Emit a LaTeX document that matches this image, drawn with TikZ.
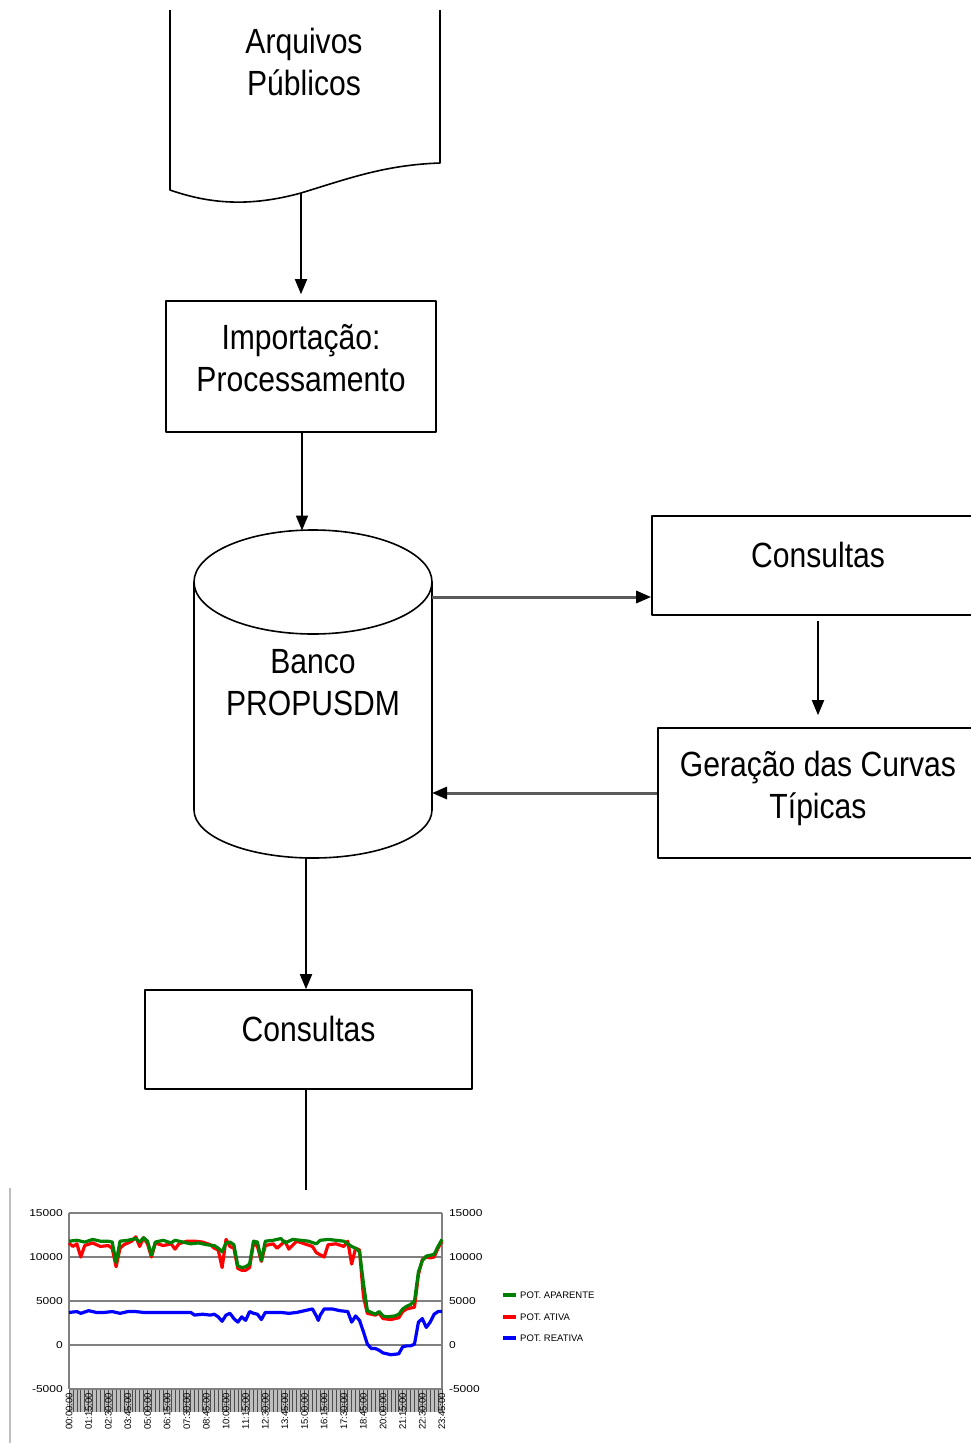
\documentclass[tikz,border=0pt]{standalone}
\usepackage{fontspec}
\setmainfont{Liberation Sans}[FakeStretch=0.86]
\newfontfamily\chartfont{Liberation Sans}
\newfontfamily\chartfontw{Liberation Sans}[FakeStretch=1.2]
\usetikzlibrary{arrows.meta,positioning}
\definecolor{aparente}{HTML}{008000}
\definecolor{ativa}{HTML}{FF0000}
\definecolor{reativa}{HTML}{0000FF}
\definecolor{grade}{HTML}{808080}
\definecolor{faixa}{HTML}{BEBEBE}
\definecolor{fluxo}{HTML}{5A5A5A}
\tikzset{
  base/.style={draw=black, line width=1.6pt, line join=round},
  box/.style={base, rectangle, inner sep=0pt, align=center, font=\fontsize{35}{42}\selectfont},
  lab/.style={inner sep=0pt, align=center, font=\fontsize{35}{42}\selectfont},
  link/.style={draw=black, line width=1.8pt, -{Triangle[length=15pt,width=12pt]}},
  linkg/.style={draw=fluxo, line width=3pt, -{Triangle[length=15pt,width=12pt,color=black]}},
  gradel/.style={draw=grade, line width=1.4pt},
  serie/.style={line width=3.2pt, line join=round},
  tick/.style={inner sep=1pt, font=\chartfont\fontsize{9.5}{11}\selectfont},
  ticky/.style={inner sep=1pt, font=\chartfontw\fontsize{10}{12}\selectfont},
}

\begin{document}
\begin{tikzpicture}[x=1pt, y=-1pt]
  \useasboundingbox (0,0) rectangle (971,1443);
  \fill[white] (0,0) rectangle (971,1443);
  \clip (0,0) rectangle (971,1443);

  % documento de entrada
  \draw[base] (170,10) -- (170,190)
    .. controls (210,204) and (250,207) .. (301,193)
    .. controls (350,178) and (385,165) .. (440,163) -- (440,10);
  \node[lab] (arq) at (304,62) {Arquivos\\Públicos};
  \coordinate (arqbot) at (301,193);

  \node[box, minimum width=270, minimum height=131, text depth=17] (imp) at (301,366.5) {Importação:\\Processamento};

  % banco de dados
  \draw[base] (194,582) -- (194,810) arc[start angle=180, end angle=0, x radius=119, y radius=48] -- (432,582);
  \draw[base] (313,582) ellipse[x radius=119, y radius=52];
  \node[lab] (banco) at (313,683) {Banco\\PROPUSDM};
  \coordinate (bancotop) at (302,530.5);
  \coordinate (bancoR1) at (432,597);
  \coordinate (bancoR2) at (432,793);
  \coordinate (bancobot) at (306,858);

  \node[box, minimum width=332, minimum height=99, text depth=21] (cons1) at (818,565.5) {Consultas};
  \node[box, minimum width=320, minimum height=130, text depth=16] (gera) at (818,793) {Geração das Curvas\\Típicas};
  \node[box, minimum width=327, minimum height=99, text depth=21] (cons2) at (308.5,1039.5) {Consultas};
  \coordinate (graftop) at (306,1190);

  \draw[link, shorten >=6pt] (arqbot) -- (imp.north);
  \draw[link] (bancotop |- imp.south) -- (bancotop);
  \draw[linkg] (bancoR1) -- (bancoR1 -| cons1.west);
  \draw[link] ([yshift=-5pt]cons1.south) -- ([yshift=12pt]gera.north);
  \draw[linkg] (gera.west) -- (bancoR2);
  \draw[link] (bancobot) -- (bancobot |- cons2.north);
  \draw[base] (graftop |- cons2.south) -- (graftop);

  % grafico
  \draw[draw=faixa, line width=1.5pt] (10,1188) -- (10,1443);
  \begin{scope}[shift={(69,1345)}, x=3.926pt, y=8.8pt]
    \fill[faixa] (0,-5) rectangle (95,-7.6);
    \foreach \i in {0,...,95}
      \draw[draw=grade!60!black, line width=0.6pt] (\i,-5) -- (\i,-7.6);
    \foreach \v in {-5,0,5,10,15}
      \draw[gradel] (0,\v) -- (95,\v);
    \draw[gradel] (0,-5) -- (0,15);
    \draw[gradel] (95,-5) -- (95,15);
    \foreach \v in {-5000,0,5000,10000,15000} {
      \node[ticky, anchor=east] (yl\v) at (-1.3,\v/1000) {\v};
      \node[ticky, anchor=west] (yr\v) at (96.5,\v/1000) {\v};
    }
    \foreach \hora [count=\k from 0] in {00:00:00,01:15:00,02:30:00,03:45:00,05:00:00,06:15:00,07:30:00,08:45:00,10:00:00,11:15:00,12:30:00,13:45:00,15:00:00,16:15:00,17:30:00,18:45:00,20:00:00,21:15:00,22:30:00,23:45:00}
      \node[tick, rotate=90, anchor=east] (xl\k) at (\k*5,-5.3) {\hora};

    \draw[serie, reativa] plot coordinates {(0,3.7)(2,3.8)(3,3.6)(5,3.9)(7,3.7)(9,3.7)(11,3.8)(13,3.6)(15,3.8)(17,3.8)(19,3.7)(21,3.7)(23,3.7)(25,3.7)(27,3.7)(29,3.7)(31,3.7)(32,3.4)(34,3.5)(36,3.4)(37,3.5)(38,3.2)(39,2.7)(40,3.4)(41,3.6)(42,3.0)(43,2.6)(44,3.2)(45,2.8)(46,3.8)(47,3.6)(48,3.5)(49,2.9)(50,3.7)(52,3.7)(54,3.7)(56,3.6)(58,3.7)(60,3.9)(62,4.1)(63,3.3)(63.5,2.8)(64,3.4)(65,4.1)(67,4.1)(69,3.9)(71,3.8)(72,2.6)(73,3.3)(74,2.8)(75,1.5)(76,0.1)(77,-0.4)(78,-0.4)(79,-0.6)(80,-0.9)(82,-1.1)(84,-1.0)(85,-0.2)(86,-0.1)(87,-0.1)(88,0.1)(89,2.6)(90,3.0)(91,2.0)(92,2.6)(93,3.5)(94,3.8)(95,3.8)};
    \draw[serie, ativa] plot coordinates {(0,11.6)(1,11.2)(2,11.5)(3,10.0)(4,11.3)(6,11.6)(8,11.2)(10,11.3)(11,11.0)(12,8.9)(13,11.0)(14,11.4)(16,11.8)(17,12.3)(18,11.2)(19,12.2)(20,11.5)(21,10.0)(22,11.6)(24,11.3)(26,11.5)(27,10.9)(28,11.5)(30,11.8)(32,11.8)(34,11.7)(36,11.4)(37,11.0)(38,10.8)(39,8.8)(40,12.0)(41,11.2)(42,11.0)(43,8.7)(44,8.5)(45,8.5)(46,8.8)(47,11.6)(48,11.2)(49,9.5)(50,11.3)(52,11.5)(53,11.0)(55,11.8)(56,10.9)(58,11.8)(60,11.5)(62,11.2)(63,10.5)(65,10.0)(66,11.4)(68,11.5)(70,11.2)(71,11.8)(72,9.2)(73,11.0)(74,10.8)(75,5.5)(76,3.6)(78,3.4)(79,3.6)(80,3.0)(82,2.9)(84,3.1)(85,3.8)(86,4.1)(88,4.3)(89,8.0)(90,9.7)(91,10.0)(92,9.9)(93,10.0)(94,11.0)(95,11.8)};
    \draw[serie, aparente] plot coordinates {(0,11.8)(2,11.9)(4,11.7)(6,12.0)(8,11.8)(10,11.8)(11,11.7)(12,9.4)(13,11.8)(15,11.9)(17,12.1)(18,11.7)(19,12.2)(20,11.8)(21,10.2)(22,11.7)(24,11.9)(26,11.6)(27,11.9)(29,11.7)(31,11.5)(33,11.6)(35,11.4)(37,11.3)(38,11.0)(39,10.6)(40,11.6)(41,11.7)(42,11.4)(43,9.0)(44,8.8)(45,8.9)(46,9.2)(47,11.8)(48,11.7)(49,9.6)(50,11.8)(52,11.9)(54,12.1)(55,11.6)(57,12.0)(59,11.9)(61,11.8)(63,11.5)(64,11.9)(66,12.0)(68,11.9)(70,11.8)(72,11.2)(73,11.0)(74,10.6)(75,7.0)(76,3.9)(77,3.7)(78,3.5)(79,3.8)(80,3.3)(81,3.2)(83,3.3)(84,3.5)(85,4.1)(86,4.4)(87,4.6)(88,5.0)(89,8.3)(90,9.6)(91,10.1)(92,10.2)(93,10.3)(94,11.2)(95,12.0)};
  \end{scope}

  % legenda
  \node[tick, anchor=west] (legA) at (519,1295) {POT. APARENTE};
  \node[tick, anchor=west] (legP) at (519,1317) {POT. ATIVA};
  \node[tick, anchor=west] (legQ) at (519,1338) {POT. REATIVA};
  \draw[serie, aparente] ([xshift=-16pt]legA.west) -- ([xshift=-3pt]legA.west);
  \draw[serie, ativa] ([xshift=-16pt]legP.west) -- ([xshift=-3pt]legP.west);
  \draw[serie, reativa] ([xshift=-16pt]legQ.west) -- ([xshift=-3pt]legQ.west);
\end{tikzpicture}
\end{document}
